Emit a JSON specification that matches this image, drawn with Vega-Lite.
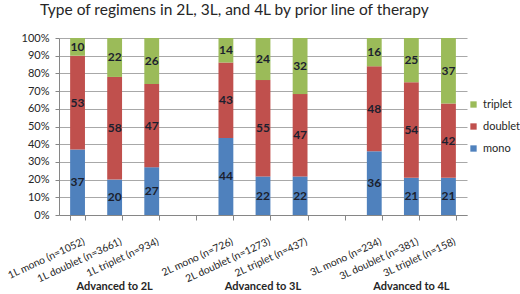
{
  "$schema": "https://vega.github.io/schema/vega-lite/v6.json",
  "width": 408,
  "height": 177,
  "autosize": {"type": "none"},
  "padding": {"left": 59, "top": 38, "right": 53, "bottom": 79},
  "background": "white",
  "config": {
    "font": "Lato",
    "view": {"stroke": null}
  },
  "title": {
    "text": "Type of regimens in 2L, 3L, and 4L by prior line of therapy",
    "anchor": "start",
    "frame": "group",
    "dx": -19,
    "offset": 14,
    "fontSize": 15.5,
    "fontWeight": "normal",
    "color": "#262626",
    "font": "Lato"
  },
  "resolve": {"axis": {"x": "independent", "y": "independent"}},
  "datasets": {
    "shares": [
      {"cat": "1L mono (n=1052)", "type": "mono", "value": 37},
      {"cat": "1L mono (n=1052)", "type": "doublet", "value": 53},
      {"cat": "1L mono (n=1052)", "type": "triplet", "value": 10},
      {"cat": "1L doublet (n=3661)", "type": "mono", "value": 20},
      {"cat": "1L doublet (n=3661)", "type": "doublet", "value": 58},
      {"cat": "1L doublet (n=3661)", "type": "triplet", "value": 22},
      {"cat": "1L triplet (n=934)", "type": "mono", "value": 27},
      {"cat": "1L triplet (n=934)", "type": "doublet", "value": 47},
      {"cat": "1L triplet (n=934)", "type": "triplet", "value": 26},
      {"cat": "2L mono (n=726)", "type": "mono", "value": 44},
      {"cat": "2L mono (n=726)", "type": "doublet", "value": 43},
      {"cat": "2L mono (n=726)", "type": "triplet", "value": 14},
      {"cat": "2L doublet (n=1273)", "type": "mono", "value": 22},
      {"cat": "2L doublet (n=1273)", "type": "doublet", "value": 55},
      {"cat": "2L doublet (n=1273)", "type": "triplet", "value": 24},
      {"cat": "2L triplet (n=437)", "type": "mono", "value": 22},
      {"cat": "2L triplet (n=437)", "type": "doublet", "value": 47},
      {"cat": "2L triplet (n=437)", "type": "triplet", "value": 32},
      {"cat": "3L mono (n=234)", "type": "mono", "value": 36},
      {"cat": "3L mono (n=234)", "type": "doublet", "value": 48},
      {"cat": "3L mono (n=234)", "type": "triplet", "value": 16},
      {"cat": "3L doublet (n=381)", "type": "mono", "value": 21},
      {"cat": "3L doublet (n=381)", "type": "doublet", "value": 54},
      {"cat": "3L doublet (n=381)", "type": "triplet", "value": 25},
      {"cat": "3L triplet (n=158)", "type": "mono", "value": 21},
      {"cat": "3L triplet (n=158)", "type": "doublet", "value": 42},
      {"cat": "3L triplet (n=158)", "type": "triplet", "value": 37}
    ],
    "groups": [
      {"cat": "1L doublet (n=3661)", "group": "Advanced to 2L"},
      {"cat": "2L doublet (n=1273)", "group": "Advanced to 3L"},
      {"cat": "3L doublet (n=381)", "group": "Advanced to 4L"}
    ]
  },
  "layer": [
    {
      "data": {"name": "shares"},
      "transform": [
        {"calculate": "indexof(['mono','doublet','triplet'], datum.type)", "as": "ord"},
        {"stack": "value", "groupby": ["cat"], "sort": [{"field": "ord", "order": "ascending"}], "offset": "normalize", "as": ["y0", "y1"]}
      ],
      "mark": {"type": "bar"},
      "encoding": {
        "x": {
          "field": "cat",
          "type": "nominal",
          "sort": null,
          "scale": {
            "domain": ["1L mono (n=1052)", "1L doublet (n=3661)", "1L triplet (n=934)", "gap1", "2L mono (n=726)", "2L doublet (n=1273)", "2L triplet (n=437)", "gap2", "3L mono (n=234)", "3L doublet (n=381)", "3L triplet (n=158)"],
            "paddingInner": 0.6,
            "paddingOuter": 0.3
          },
          "axis": {
            "title": null,
            "labelAngle": -25,
            "labelAlign": "right",
            "labelBaseline": "top",
            "labelExpr": "indexof(datum.label, 'gap') == 0 ? '' : datum.label",
            "labelFontSize": 10.3,
            "labelColor": "#262626",
            "labelFont": "Lato",
            "tickBand": "extent",
            "tickSize": 5,
            "tickColor": "#868686",
            "domainColor": "#868686",
            "labelPadding": 16,
            "labelOffset": 4,
            "grid": false
          }
        },
        "y": {
          "field": "y0",
          "type": "quantitative",
          "scale": {"domain": [0, 1]},
          "axis": {
            "title": null,
            "format": ".0%",
            "values": [0, 0.1, 0.2, 0.3, 0.4, 0.5, 0.6, 0.7, 0.8, 0.9, 1],
            "labelOverlap": false,
            "labelFontSize": 11,
            "labelColor": "#262626",
            "labelFont": "Lato",
            "gridColor": "#a8a8a8",
            "tickColor": "#868686",
            "domainColor": "#868686",
            "tickSize": 4,
            "labelPadding": 6
          }
        },
        "y2": {"field": "y1"},
        "color": {
          "field": "type",
          "type": "nominal",
          "scale": {"domain": ["triplet", "doublet", "mono"], "range": ["#9BBB59", "#C0504D", "#4F81BD"]},
          "legend": {
            "title": null,
            "orient": "none",
            "legendX": 409,
            "legendY": 61,
            "symbolType": "square",
            "symbolSize": 40,
            "symbolStrokeWidth": 0,
            "labelFontSize": 11,
            "labelFont": "Lato",
            "labelColor": "#262626",
            "rowPadding": 10,
            "labelOffset": 4
          }
        }
      }
    },
    {
      "data": {"name": "shares"},
      "transform": [
        {"calculate": "indexof(['mono','doublet','triplet'], datum.type)", "as": "ord"},
        {"stack": "value", "groupby": ["cat"], "sort": [{"field": "ord", "order": "ascending"}], "offset": "normalize", "as": ["y0", "y1"]},
        {"calculate": "(datum.y0 + datum.y1) / 2", "as": "ymid"}
      ],
      "mark": {"type": "text", "fontWeight": "bold", "fontSize": 12, "font": "Lato", "color": "#1b1f2e", "baseline": "middle"},
      "encoding": {
        "x": {"field": "cat", "type": "nominal", "sort": null, "axis": null},
        "y": {"field": "ymid", "type": "quantitative", "scale": {"domain": [0, 1]}, "axis": null},
        "text": {"field": "value", "type": "quantitative"}
      }
    },
    {
      "data": {"name": "groups"},
      "mark": {"type": "text", "fontWeight": "bold", "fontSize": 11, "font": "Lato", "color": "#262626", "baseline": "middle"},
      "encoding": {
        "x": {"field": "cat", "type": "nominal", "sort": null, "axis": null},
        "y": {"datum": -0.407, "type": "quantitative", "scale": {"domain": [0, 1]}, "axis": null},
        "text": {"field": "group", "type": "nominal"}
      }
    }
  ]
}
